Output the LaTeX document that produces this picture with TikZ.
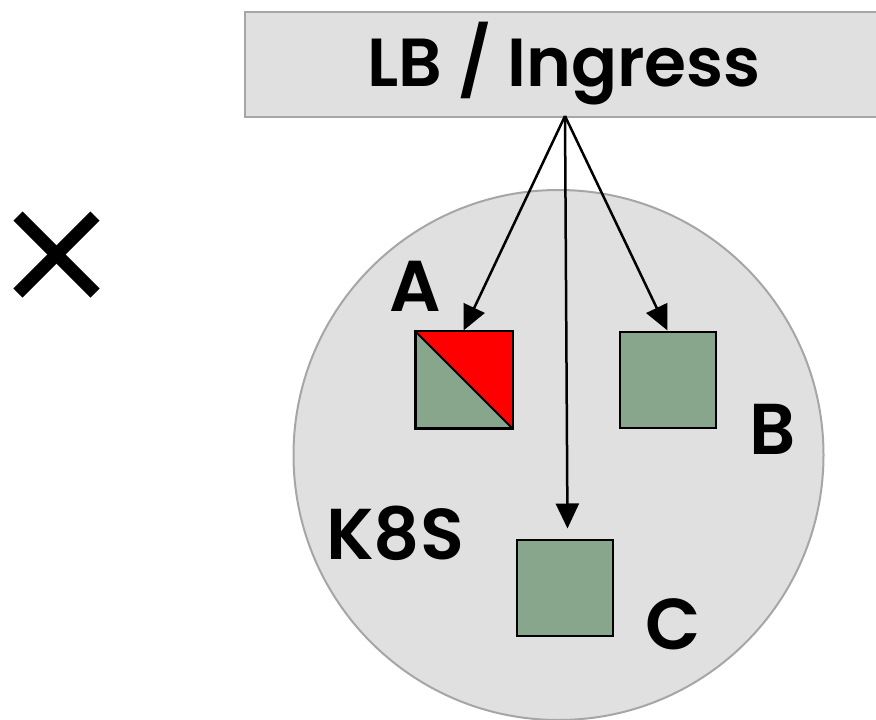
\documentclass[tikz,border=0pt]{standalone}
\usepackage{fontspec}
\setmainfont{Poppins}[BoldFont={Poppins SemiBold}]
\usetikzlibrary{arrows.meta}
\definecolor{boxgray}{RGB}{224,224,224}
\definecolor{edgegray}{RGB}{166,166,166}
\definecolor{podgreen}{RGB}{135,166,140}
\definecolor{podred}{RGB}{255,0,0}
\tikzset{
  lbl/.style={font=\fontsize{72}{80}\selectfont\bfseries, inner sep=0pt},
  pod/.style={draw=black, line width=2pt, fill=podgreen, minimum width=96pt, minimum height=96pt, inner sep=0pt},
  arr/.style={line width=2.5pt, -{Triangle[length=25pt,width=23pt]}},
}
\begin{document}
\begin{tikzpicture}[x=1pt,y=-1pt]
\useasboundingbox (0,0) rectangle (876,720);
\begin{scope}
\clip (0,0) rectangle (876,720);
\node[draw=edgegray, line width=2pt, fill=boxgray, minimum width=644pt, minimum height=105pt, inner sep=0pt, anchor=north west] (lb) at (244,11) {};
\end{scope}
\node[lbl, font=\fontsize{68}{80}\selectfont\bfseries] (lbt) at (564,64) {LB / Ingress};
\coordinate (o) at (565,116);
\node[circle, draw=edgegray, line width=2pt, fill=boxgray, minimum size=530pt, inner sep=0pt] (k8s) at (558.5,455) {};
\node[pod] (A) at (463.5,379.5) {};
\fill[podred] (A.north west) -- (A.north east) -- (A.south east) -- cycle;
\draw[line width=2pt] (A.north west) rectangle (A.south east);
\draw[line width=2pt] (A.north west) -- (A.south east);
\node[pod] (B) at (667.5,379.5) {};
\node[pod] (C) at (564.5,587.5) {};
\draw[arr] (o) -- (A.north);
\draw[arr] (o) -- (B.north);
\draw[arr] (o) -- ([xshift=3pt,yshift=10pt]C.north);
\node[lbl] (la) at (415,286) {A};
\node[lbl] (lbB) at (773,429) {B};
\node[lbl] (lk) at (395,533) {K8S};
\node[lbl] (lc) at (673,624) {C};
\coordinate (x1) at (18,216);
\coordinate (x2) at (95,293);
\coordinate (x3) at (95,216);
\coordinate (x4) at (18,293);
\draw[line width=13pt] (x1) -- (x2);
\draw[line width=13pt] (x3) -- (x4);
\end{tikzpicture}
\end{document}
